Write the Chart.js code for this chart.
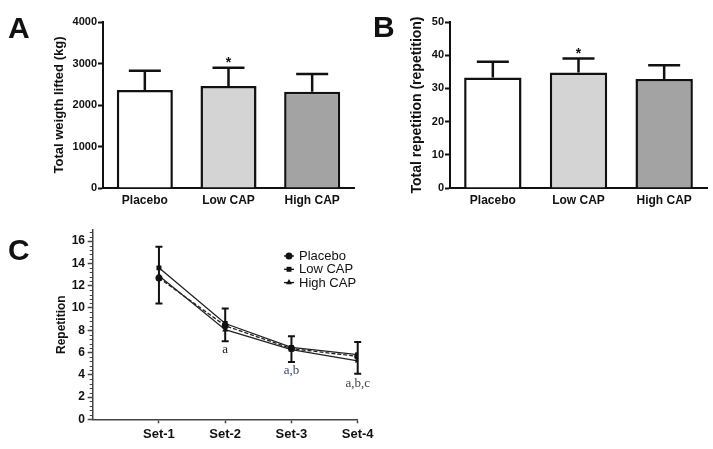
<!DOCTYPE html>
<html><head><meta charset="utf-8">
<script src="https://cdn.jsdelivr.net/npm/chart.js@4.4.1/dist/chart.umd.min.js"></script>
<style>
html,body{margin:0;padding:0;background:#fff;}
#wrap{position:relative;width:713px;height:449px;overflow:hidden;}
canvas{position:absolute;}
</style></head><body>
<div id="wrap">
<canvas id="cA" width="360" height="215" style="left:0;top:0"></canvas>
<canvas id="cB" width="353" height="215" style="left:360px;top:0"></canvas>
<canvas id="cC" width="400" height="234" style="left:0;top:215px"></canvas>
</div>
<script>
// panels A and B
const groups = ['Placebo', 'Low CAP', 'High CAP'];
const barColors = ['#ffffff', '#d4d4d4', '#a3a3a3'];
const weightMean = [2360, 2460, 2320];
const weightSD = [465, 440, 425];
const repMean = [33.3, 34.8, 32.8];
const repSD = [4.7, 4.2, 4.2];
const starGroup = 1;

// panel C
const sets = ['Set-1', 'Set-2', 'Set-3', 'Set-4'];
const setPos = [1, 2, 3, 4];
const repTicks = [0, 2, 4, 6, 8, 10, 12, 14, 16];
const placeboReps = [12.7, 8.4, 6.35, 5.65];
const lowReps = [13.6, 8.6, 6.45, 5.8];
const highReps = [12.9, 8.05, 6.25, 5.25];
const errTop = [15.5, 9.95, 7.45, 6.95];
const errBottom = [10.4, 7.0, 5.15, 4.1];
const marks = ['', 'a', 'a,b', 'a,b,c'];
const markY = [null, 6.3, 4.4, 3.25];
const markColors = ['#000', '#222', '#3b4670', '#444'];

Chart.defaults.font.family = "'Liberation Sans', Arial, sans-serif";
const INK = '#111';

// big panel letter
const letter = {
  id: 'letter',
  afterDraw(chart, args, o){
    const ctx = chart.ctx;
    ctx.save();
    ctx.fillStyle = INK;
    ctx.font = "bold 30px 'Liberation Sans', Arial, sans-serif";
    ctx.textBaseline = 'alphabetic';
    ctx.fillText(o.text, o.x, o.y);
    ctx.restore();
  }
};

// upper error bars on bars + star
const barErr = {
  id: 'barErr',
  afterDatasetsDraw(chart, args, o){
    const ctx = chart.ctx, y = chart.scales.y;
    const meta = chart.getDatasetMeta(0);
    ctx.save();
    ctx.strokeStyle = INK; ctx.lineWidth = 2.5;
    meta.data.forEach((bar, i) => {
      const yTop = y.getPixelForValue(o.mean[i] + o.sd[i]);
      ctx.beginPath();
      ctx.moveTo(bar.x, bar.y); ctx.lineTo(bar.x, yTop);
      ctx.moveTo(bar.x - 16, yTop); ctx.lineTo(bar.x + 16, yTop);
      ctx.stroke();
      if(i === o.star){
        ctx.fillStyle = INK;
        ctx.font = "bold 14px 'Liberation Sans', Arial, sans-serif";
        ctx.textAlign = 'center';
        ctx.fillText('*', bar.x, yTop - 1);
      }
    });
    ctx.restore();
  }
};

function makeBar(id, mean, sd, yMax, step, title, titleSize, titlePad, padRight, yWidth, letterOpts){
  return new Chart(document.getElementById(id), {
    type: 'bar',
    data: {
      labels: groups,
      datasets: [{
        data: mean,
        backgroundColor: barColors,
        borderColor: INK,
        borderWidth: 2.5,
        categoryPercentage: 1,
        barPercentage: 0.67
      }]
    },
    options: {
      responsive: false,
      animation: false,
      layout: {padding: {left: 0, right: padRight, top: 22, bottom: 0}},
      plugins: {
        legend: {display: false},
        tooltip: {enabled: false},
        barErr: {mean: mean, sd: sd, star: starGroup},
        letter: letterOpts
      },
      scales: {
        x: {
          grid: {display: false, drawTicks: false},
          border: {color: INK, width: 2},
          ticks: {color: INK, font: {weight: 'bold', size: 12}, padding: 5},
          afterFit(s){ s.height = 27; }
        },
        y: {
          min: 0, max: yMax,
          ticks: {stepSize: step, color: INK, font: {weight: 'bold', size: 11}, padding: 1, callback: v => String(v)},
          grid: {drawOnChartArea: false, tickLength: 5, tickColor: INK, tickWidth: 2},
          border: {color: INK, width: 2},
          title: {display: true, text: title, color: INK, font: {weight: 'bold', size: titleSize}, padding: {top: titlePad, bottom: 0}},
          afterFit(s){ s.width = yWidth; }
        }
      }
    },
    plugins: [barErr, letter]
  });
}

makeBar('cA', weightMean, weightSD, 4000, 1000, 'Total weigth lifted (kg)', 13, 51.5, 6, 103, {text: 'A', x: 8, y: 38});
makeBar('cB', repMean, repSD, 50, 10, 'Total repetition (repetition)', 14, 48.8, 6, 90, {text: 'B', x: 13, y: 37});

// panel C helpers
const lineErr = {
  id: 'lineErr',
  afterDatasetsDraw(chart){
    const ctx = chart.ctx, x = chart.scales.x, y = chart.scales.y;
    ctx.save();
    ctx.strokeStyle = INK; ctx.lineWidth = 2;
    setPos.forEach((p, i) => {
      const px = x.getPixelForValue(p);
      const t = y.getPixelForValue(errTop[i]);
      const b = y.getPixelForValue(errBottom[i]);
      ctx.beginPath();
      ctx.moveTo(px, t); ctx.lineTo(px, b);
      ctx.moveTo(px - 3.5, t); ctx.lineTo(px + 3.5, t);
      ctx.moveTo(px - 3.5, b); ctx.lineTo(px + 3.5, b);
      ctx.stroke();
    });
    // significance letters
    ctx.textAlign = 'center';
    ctx.textBaseline = 'middle';
    ctx.font = "13px 'Liberation Serif', 'Times New Roman', serif";
    marks.forEach((m, i) => {
      if(!m) return;
      ctx.fillStyle = markColors[i];
      ctx.fillText(m, x.getPixelForValue(setPos[i]), y.getPixelForValue(markY[i]));
    });
    ctx.restore();
  },
  afterDraw(chart){
    const ctx = chart.ctx, y = chart.scales.y;
    const left = chart.chartArea.left;
    ctx.save();
    ctx.strokeStyle = '#444'; ctx.lineWidth = 1;
    ctx.beginPath();
    for(let k = 1; k * 0.4 < 17; k++){
      if(k % 5 === 0) continue;
      const py = Math.round(y.getPixelForValue(k * 0.4)) + 0.5;
      ctx.moveTo(left - 3, py); ctx.lineTo(left, py);
    }
    ctx.stroke();
    ctx.restore();
  }
};

const lineLegend = {
  id: 'lineLegend',
  afterDraw(chart){
    const ctx = chart.ctx;
    ctx.save();
    ctx.font = "13px 'Liberation Sans', Arial, sans-serif";
    ctx.textBaseline = 'middle';
    chart.data.datasets.forEach((ds, i) => {
      const yy = 41 + i * 13.3;
      ctx.strokeStyle = INK; ctx.lineWidth = 1.3;
      ctx.beginPath(); ctx.moveTo(284, yy); ctx.lineTo(294, yy); ctx.stroke();
      ctx.fillStyle = INK;
      Chart.helpers.drawPoint(ctx, {pointStyle: ds.pointStyle, radius: ds.pointRadius, rotation: 0, borderWidth: 0}, 289, yy);
      ctx.fillStyle = '#111';
      ctx.fillText(ds.label, 299, yy + 0.5);
    });
    ctx.restore();
  }
};

function series(label, vals, style, radius, dash){
  return {
    label: label,
    data: setPos.map((p, i) => ({x: p, y: vals[i]})),
    borderColor: '#222',
    backgroundColor: INK,
    borderWidth: 1.3,
    borderDash: dash,
    pointStyle: style,
    pointRadius: radius,
    pointBorderWidth: 0,
    fill: false,
    tension: 0
  };
}

new Chart(document.getElementById('cC'), {
  type: 'line',
  data: {
    datasets: [
      series('Placebo', placeboReps, 'circle', 3.5, [4, 2]),
      series('Low CAP', lowReps, 'rect', 3.5, []),
      series('High CAP', highReps, 'triangle', 3.5, [])
    ]
  },
  options: {
    responsive: false,
    animation: false,
    layout: {padding: {left: 0, right: 42.3, top: 15, bottom: 0}},
    plugins: {
      legend: {display: false},
      tooltip: {enabled: false},
      letter: {text: 'C', x: 8, y: 45}
    },
    scales: {
      x: {
        type: 'linear', min: 0, max: 4,
        afterBuildTicks(s){ s.ticks = setPos.map(v => ({value: v})); },
        ticks: {color: INK, font: {weight: 'bold', size: 13}, padding: 3, callback: (v, i) => sets[i]},
        grid: {drawOnChartArea: false, tickLength: 4, tickColor: '#444', tickWidth: 1.5},
        border: {color: '#444', width: 1.5},
        afterFit(s){ s.height = 29.7; }
      },
      y: {
        min: 0, max: 17,
        afterBuildTicks(s){ s.ticks = repTicks.map(v => ({value: v})); },
        ticks: {color: INK, font: {weight: 'bold', size: 12}, padding: 2.7, callback: v => String(v)},
        grid: {drawOnChartArea: false, tickLength: 5, tickColor: '#444', tickWidth: 1.5},
        border: {color: '#444', width: 1.5},
        title: {display: true, text: 'Repetition', color: INK, font: {weight: 'bold', size: 12}, padding: {top: 54.5, bottom: 0}},
        afterFit(s){ s.width = 92.7; }
      }
    }
  },
  plugins: [lineErr, lineLegend, letter]
});
</script>
</body></html>
